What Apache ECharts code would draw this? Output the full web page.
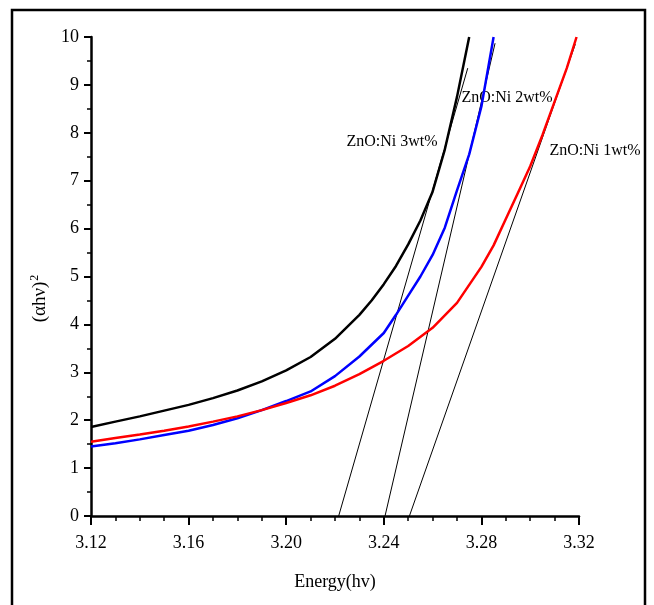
<!DOCTYPE html>
<html>
<head>
<meta charset="utf-8">
<script src="https://cdn.jsdelivr.net/npm/echarts@6/dist/echarts.min.js"></script>
<style>html,body{margin:0;padding:0;background:#fff;}#c{width:654px;height:605px;}</style>
</head>
<body>
<div id="c"></div>
<script>
// Data
const xTicks = [3.12, 3.16, 3.20, 3.24, 3.28, 3.32];
const yTicks = [0, 1, 2, 3, 4, 5, 6, 7, 8, 9, 10];

const energy3 = [3.12, 3.13, 3.14, 3.15, 3.16, 3.17, 3.18, 3.19, 3.20, 3.21, 3.22, 3.23, 3.235, 3.24, 3.245, 3.25, 3.255, 3.26, 3.265, 3.27, 3.275];
const alpha3  = [1.86, 1.97, 2.08, 2.20, 2.32, 2.46, 2.62, 2.81, 3.04, 3.32, 3.70, 4.20, 4.50, 4.84, 5.22, 5.67, 6.17, 6.77, 7.65, 8.75, 10.0];

const energy2 = [3.12, 3.13, 3.14, 3.15, 3.16, 3.17, 3.18, 3.19, 3.20, 3.21, 3.22, 3.23, 3.24, 3.245, 3.25, 3.255, 3.26, 3.265, 3.27, 3.275, 3.28, 3.285];
const alpha2  = [1.45, 1.52, 1.60, 1.69, 1.78, 1.90, 2.04, 2.21, 2.40, 2.60, 2.92, 3.33, 3.82, 4.20, 4.60, 5.00, 5.45, 6.02, 6.80, 7.55, 8.55, 10.0];

const energy1 = [3.12, 3.13, 3.14, 3.15, 3.16, 3.17, 3.18, 3.19, 3.20, 3.21, 3.22, 3.23, 3.24, 3.25, 3.26, 3.27, 3.28, 3.285, 3.29, 3.295, 3.30, 3.305, 3.31, 3.315, 3.319];
const alpha1  = [1.55, 1.63, 1.70, 1.78, 1.87, 1.97, 2.08, 2.21, 2.36, 2.52, 2.72, 2.96, 3.24, 3.55, 3.93, 4.45, 5.20, 5.65, 6.20, 6.75, 7.30, 7.95, 8.65, 9.35, 10.0];

// Tangent (extrapolation) lines: [x, y] end points
const tangent3 = [[3.2215, 0], [3.2744, 9.35]];
const tangent2 = [[3.2405, 0], [3.2856, 9.87]];
const tangent1 = [[3.2505, 0], [3.3185, 9.85]];

const labels = ['ZnO:Ni 3wt%', 'ZnO:Ni 2wt%', 'ZnO:Ni 1wt%'];

const zip = (xs, ys) => xs.map((x, i) => [x, ys[i]]);
const FONT = "'Liberation Serif', 'Times New Roman', serif";

const chart = echarts.init(document.getElementById('c'), null, {renderer: 'canvas'});

function curve(name, data, color) {
  return {name, type: 'line', data, showSymbol: false, symbol: 'none', smooth: false,
    lineStyle: {color, width: 2.5}, itemStyle: {color}, z: 3};
}
function tangent(data) {
  return {type: 'line', data, showSymbol: false, symbol: 'none',
    lineStyle: {color: '#000', width: 1}, z: 2, silent: true};
}

const option = {
  animation: false,
  backgroundColor: '#fff',
  grid: {left: 91, right: 75, top: 37, bottom: 89, containLabel: false},
  xAxis: {
    type: 'value', min: xTicks[0], max: xTicks[xTicks.length - 1], interval: 0.04,
    name: 'Energy(hv)', nameLocation: 'middle', nameGap: 57,
    nameTextStyle: {fontFamily: FONT, fontSize: 18, color: '#000'},
    axisLine: {show: true, lineStyle: {color: '#000', width: 2.5}},
    axisTick: {show: true, length: 9, lineStyle: {color: '#000', width: 2}},
    minorTick: {show: true, splitNumber: 4, length: 5, lineStyle: {color: '#000', width: 1.5}},
    splitLine: {show: false},
    axisLabel: {fontFamily: FONT, fontSize: 18, color: '#000', margin: 18,
      formatter: v => v.toFixed(2)}
  },
  yAxis: {
    type: 'value', min: yTicks[0], max: yTicks[yTicks.length - 1], interval: 1,
    name: '{a|(αhν)}{b|2}', nameLocation: 'middle', nameGap: 39, nameRotate: 90,
    nameTextStyle: {fontFamily: FONT, fontSize: 19, color: '#000', padding: [0, 44, 0, 0],
      rich: {a: {fontFamily: FONT, fontSize: 19, color: '#000'},
             b: {fontFamily: FONT, fontSize: 12, color: '#000', padding: [0, 0, 11, 1]}}},
    axisLine: {show: true, lineStyle: {color: '#000', width: 2.5}},
    axisTick: {show: true, length: 7, lineStyle: {color: '#000', width: 2}},
    minorTick: {show: true, splitNumber: 2, length: 4, lineStyle: {color: '#000', width: 1.5}},
    splitLine: {show: false},
    axisLabel: {fontFamily: FONT, fontSize: 18, color: '#000', margin: 12}
  },
  graphic: [
    {type: 'rect', shape: {x: 12, y: 10, width: 633, height: 610},
      style: {fill: 'none', stroke: '#000', lineWidth: 2.5}, silent: true},
    {type: 'text', x: 392, y: 142, style: {text: labels[0], font: "16px " + FONT, fill: '#000', align: 'center', verticalAlign: 'middle'}},
    {type: 'text', x: 507, y: 98, style: {text: labels[1], font: "16px " + FONT, fill: '#000', align: 'center', verticalAlign: 'middle'}},
    {type: 'text', x: 595, y: 151, style: {text: labels[2], font: "16px " + FONT, fill: '#000', align: 'center', verticalAlign: 'middle'}}
  ],
  series: [
    tangent(tangent3), tangent(tangent2), tangent(tangent1),
    curve(labels[0], zip(energy3, alpha3), '#000000'),
    curve(labels[1], zip(energy2, alpha2), '#0000ff'),
    curve(labels[2], zip(energy1, alpha1), '#ff0000')
  ]
};
chart.setOption(option);
</script>
</body>
</html>
